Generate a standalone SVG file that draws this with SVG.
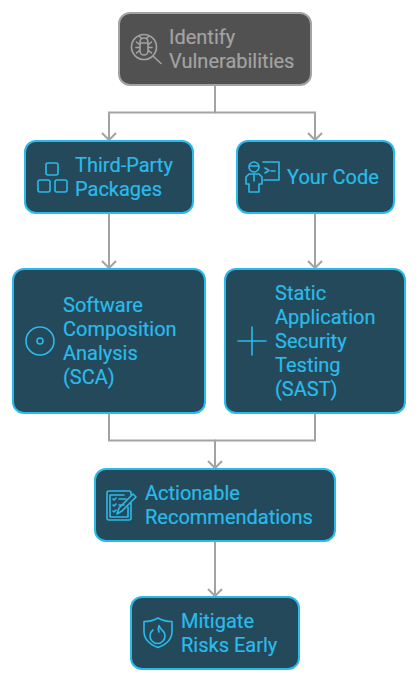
<svg xmlns="http://www.w3.org/2000/svg" width="418" height="682" viewBox="0 0 418 682">
<defs>
<style>
.n{fill:#24495a;stroke:#2abbea;stroke-width:2}
.g{fill:#515151;stroke:#a3a3a3;stroke-width:2}
text{font-family:Roboto,"Liberation Sans",sans-serif;font-size:20px;fill:#2abbea;stroke:#2abbea;stroke-width:.2px}
text.gt{fill:#a3a3a3;stroke:#a3a3a3}
.i{fill:none;stroke:#2abbea;stroke-width:1.6;stroke-linecap:round;stroke-linejoin:round}
.gi{fill:none;stroke:#a3a3a3;stroke-width:1.6;stroke-linecap:round;stroke-linejoin:round}
.c{fill:none;stroke:#a3a3a3;stroke-width:2}
</style>
<marker id="a" markerUnits="userSpaceOnUse" markerWidth="18" markerHeight="16" refX="14" refY="8" orient="auto">
<path d="M7 1L14 8L7 15" fill="none" stroke="#a3a3a3" stroke-width="2"/>
</marker>
</defs>
<rect width="418" height="682" fill="#fff"/>
<g id="connectors">
<path class="c" d="M215 85V112.500H109V140" marker-end="url(#a)"/>
<path class="c" d="M215 112.500H315V140" marker-end="url(#a)"/>
<path class="c" d="M109 213V268" marker-end="url(#a)"/>
<path class="c" d="M315 213V268" marker-end="url(#a)"/>
<path class="c" d="M109 413V440.500H215V468" marker-end="url(#a)"/>
<path class="c" d="M315 413V440.500H215"/>
<path class="c" d="M215 541V596" marker-end="url(#a)"/>
</g>
<g id="identify">
<rect class="g" x="119" y="13" width="192" height="72" rx="11"/>
<circle class="gi" cx="144" cy="47" r="12.500"/>
<path class="gi" d="M153 56L161 63.500"/>
<path class="gi" d="M140 42a4 4 0 0 1 8 0v9a4 4 0 0 1-8 0zM140 43h8M136.500 42l3.500 3M151.500 42l-3.500 3M136 47.500h4M148 47.500h4M136.500 53l3.500-3M151.500 53l-3.500-3M141 38l-2-2M147 38l2-2"/>
<text class="gt" x="169" y="44">Identify</text>
<text class="gt" x="169" y="68">Vulnerabilities</text>
</g>
<g id="third-party">
<rect class="n" x="25" y="141" width="168" height="72" rx="11"/>
<rect class="i" x="46" y="163" width="12" height="12" rx="2"/>
<rect class="i" x="38" y="180" width="12" height="12" rx="2"/>
<rect class="i" x="55" y="180" width="12" height="12" rx="2"/>
<text x="75" y="172">Third-Party</text>
<text x="75" y="196">Packages</text>
</g>
<g id="your-code">
<rect class="n" x="237" y="141" width="157" height="72" rx="11"/>
<circle class="i" cx="254" cy="167" r="5"/>
<path class="i" d="M250 166h8M249 174h10l3 3v7h-3v8h-10v-8h-3v-7zM254 174v7"/>
<path class="i" d="M263 162h16v18h-15M265 168l4 2.500-4 2.500M271 171h4"/>
<text x="287" y="184">Your Code</text>
</g>
<g id="sca">
<rect class="n" x="13" y="269" width="192" height="144" rx="11"/>
<circle class="i" cx="40" cy="341" r="14"/>
<circle class="i" cx="40" cy="341" r="3"/>
<text x="63" y="312">Software</text>
<text x="63" y="336">Composition</text>
<text x="63" y="360">Analysis</text>
<text x="63" y="384">(SCA)</text>
</g>
<g id="sast">
<rect class="n" x="225" y="269" width="180" height="144" rx="11"/>
<path class="i" d="M238 341h28M252 327v28"/>
<text x="275" y="300">Static</text>
<text x="275" y="324">Application</text>
<text x="275" y="348">Security</text>
<text x="275" y="372">Testing</text>
<text x="275" y="396">(SAST)</text>
</g>
<g id="actionable">
<rect class="n" x="95" y="469" width="240" height="72" rx="11"/>
<path class="i" d="M131 503v15a2 2 0 0 1-2 2h-20a2 2 0 0 1-2-2v-25a2 2 0 0 1 2-2h20a2 2 0 0 1 2 2v2"/>
<path class="i" d="M128 507v10h-18v-22h14M113 499l1 1 2-2M119 499h7M113 505l1 1 2-2M119 505h5M113 511l1 1 2-2"/>
<path class="i" d="M136 497l-14 14-5 3 2-6 14-14z"/>
<text x="145" y="500">Actionable</text>
<text x="145" y="524">Recommendations</text>
</g>
<g id="mitigate">
<rect class="n" x="131" y="597" width="168" height="72" rx="11"/>
<path class="i" d="M158 618c4 2.500 9 3.500 14 3.500v10c0 8-6 13-14 16-8-3-14-8-14-16v-10c5 0 10-1 14-3.500z"/>
<path class="i" d="M153 630a7.500 7.500 0 1 0 9 0c-1-1-2.500-2.500-3-4.500-1 2-1 4 0 6.500"/>
<text x="181" y="628">Mitigate</text>
<text x="181" y="652">Risks Early</text>
</g>
</svg>
